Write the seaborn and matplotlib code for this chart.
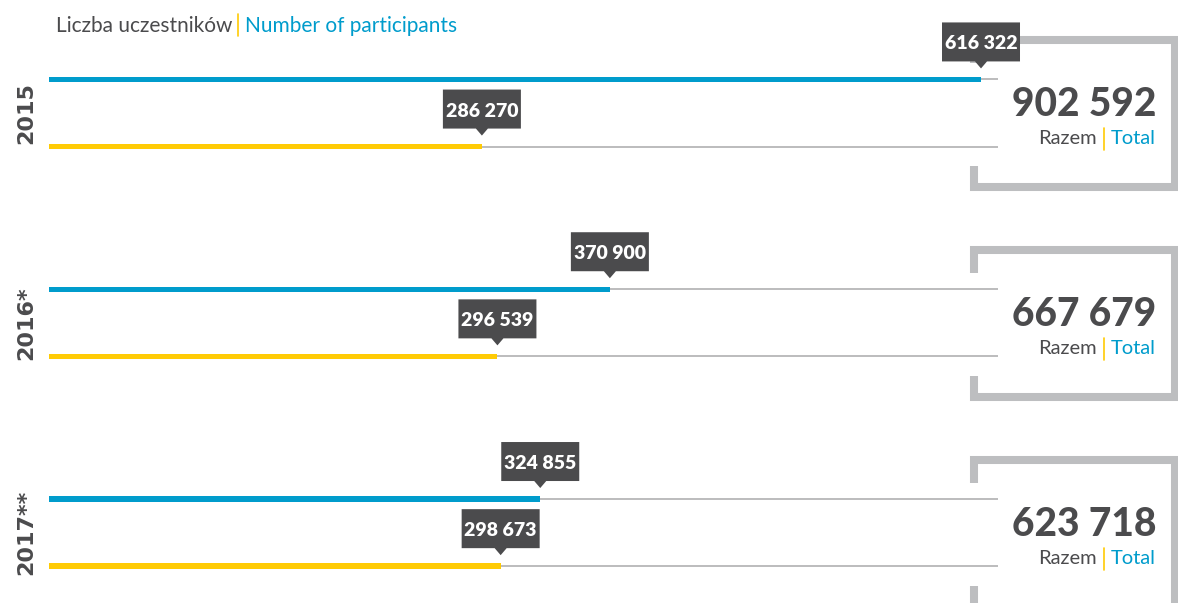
import matplotlib
matplotlib.use("Agg")
import matplotlib.pyplot as plt
import matplotlib.transforms as mtransforms
from matplotlib.patches import Polygon
import seaborn as sns
import pandas as pd

# data
years = ["2015", "2016*", "2017**"]
blue_values = [616322, 370900, 324855]
yellow_values = [286270, 296539, 298673]
totals = [902592, 667679, 623718]
series = ["blue", "yellow"]

title_pl = "Liczba uczestników"
title_en = "Number of participants"
total_pl = "Razem"
total_en = "Total"

BLUE = "#009ccc"
YELLOW = "#ffcb05"
DARK = "#4b4b4d"
GRID = "#a9a9ab"
BRACKET = "#bdbec0"

df = pd.DataFrame({
    "year": years * 2,
    "series": [series[0]] * len(years) + [series[1]] * len(years),
    "value": blue_values + yellow_values,
})

sns.set_style("white")
plt.rcParams["font.family"] = ["Lato", "DejaVu Sans"]


def fmt(v):
    return f"{int(round(v)):,}".replace(",", " ")


W, H = 1178, 603
fig = plt.figure(figsize=(W / 100, H / 100), dpi=100)
ax = fig.add_axes([49 / W, 0, 949 / W, 1])

sns.barplot(data=df, y="year", x="value", hue="series", orient="h",
            palette=[BLUE, YELLOW], saturation=1, width=0.64, gap=0.92,
            errorbar=None, legend=False, linewidth=0, ax=ax, zorder=2)

pix = mtransforms.IdentityTransform()

# thin grey guide lines and value flags
for p in ax.patches:
    if p.get_width() <= 0:
        continue
    yc = p.get_y() + p.get_height() / 2
    xe = p.get_width()
    ax.axhline(yc, color=GRID, lw=1.1, zorder=1)
    tr = pix + mtransforms.ScaledTranslation(xe, yc, ax.transData)
    verts = [(-39, 57), (39, 57), (39, 18), (6, 18), (0, 11), (-6, 18), (-39, 18)]
    ax.add_patch(Polygon(verts, closed=True, transform=tr, fc=DARK, ec="none",
                         zorder=5, clip_on=False))
    ax.text(0, 30, fmt(xe), transform=tr, ha="center", va="baseline",
            color="white", fontsize=14, fontweight="heavy", zorder=6)

fig.canvas.draw()
rend = fig.canvas.get_renderer()

# year labels, total brackets and totals
yblend = mtransforms.blended_transform_factory(pix, ax.transData)
for gi, (yr, tot) in enumerate(zip(years, totals)):
    gt = pix + mtransforms.ScaledTranslation(0, gi, yblend)
    ax.text(32, 0, yr, transform=gt, rotation=90, rotation_mode="anchor",
            ha="center", va="baseline", fontsize=16, fontweight="bold",
            family="DejaVu Sans", color=DARK)
    ax.plot([974, 974, 1175, 1175, 974, 974], [50, 73, 73, -74, -74, -53],
            transform=gt, color=BRACKET, lw=5.8, solid_joinstyle="miter",
            solid_capstyle="butt", clip_on=False, zorder=3)
    ax.text(1156, -3, fmt(tot), transform=gt, ha="right", va="baseline",
            fontsize=28, fontweight="black", color=DARK, zorder=4)
    t_en = ax.text(1156, -31, total_en, transform=gt, ha="right", va="baseline",
                   fontsize=14.5, color=BLUE, zorder=4)
    w_en = t_en.get_window_extent(rend).width
    sx = 1156 - w_en - 7
    ax.plot([sx, sx], [-15, -37], transform=gt, color=YELLOW, lw=1.2,
            clip_on=False, zorder=4)
    ax.text(sx - 7, -31, total_pl, transform=gt, ha="right", va="baseline",
            fontsize=14.5, color=DARK, zorder=4)

# title
t1 = fig.text(56, H - 32, title_pl, transform=pix, ha="left", va="baseline",
              fontsize=15, color=DARK)
w1 = t1.get_window_extent(rend).width
sx = 56 + w1 + 6
fig.add_artist(plt.Line2D([sx, sx], [H - 14, H - 36], transform=pix,
                          color=YELLOW, lw=1.2))
fig.text(sx + 7, H - 32, title_en, transform=pix, ha="left", va="baseline",
         fontsize=15, color=BLUE)

ax.set_xlim(0, 627560)
ax.set_ylim(2.3356, -0.5386)
ax.set_axis_off()

fig.savefig("out.png", dpi=100)
